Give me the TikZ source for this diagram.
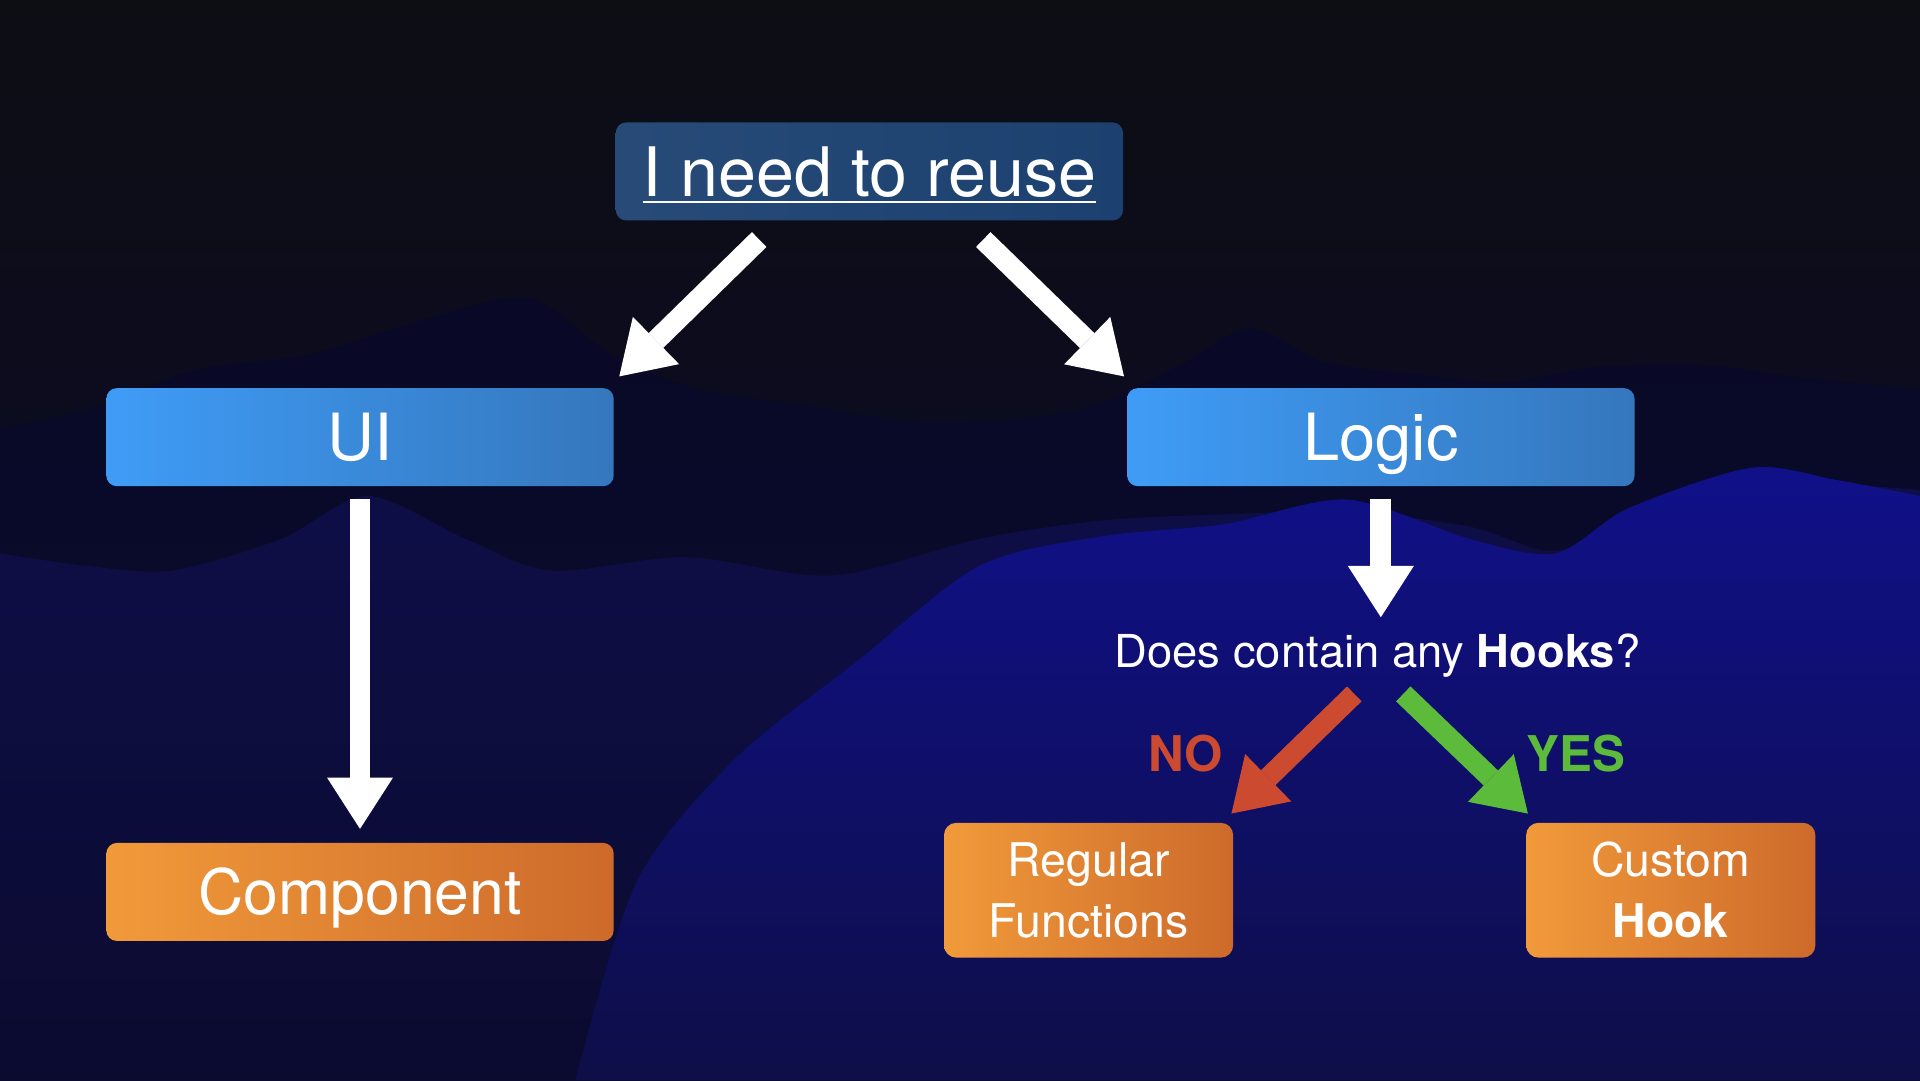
\documentclass[tikz,border=0pt]{standalone}
\usepackage{fontspec}
\setmainfont{TeX Gyre Heros}
\usetikzlibrary{arrows.meta,positioning,calc}

\definecolor{nightsky}{HTML}{0D0D14}
\definecolor{deepnavy}{HTML}{0B0B30}
\definecolor{midnavy}{HTML}{0E0E48}
\definecolor{brightnavy}{HTML}{10108A}
\definecolor{reuseblue}{HTML}{1C4170}
\definecolor{skyL}{HTML}{3F9CF6}
\definecolor{skyR}{HTML}{3577BD}
\definecolor{amberL}{HTML}{F19A3A}
\definecolor{amberR}{HTML}{CD6A2B}
\definecolor{noRed}{HTML}{CC4A30}
\definecolor{yesGreen}{HTML}{5DBB3B}

\begin{document}
\begin{tikzpicture}[x=0.012245cm,y=-0.012245cm,
    bigarrow/.style={-{Triangle[width=18.8pt,length=14.6pt,line width=0pt]},line width=5.9pt,white},
    darkbox/.style={rectangle,rounded corners=3pt,minimum width=5.07cm,minimum height=0.98cm,text height=14pt,text depth=0pt,
      left color=reuseblue!95!white,right color=reuseblue,text=white,font=\fontsize{19.4}{24}\selectfont},
    bluebox/.style={rectangle,rounded corners=3pt,minimum width=5.07cm,minimum height=0.98cm,text height=13.3pt,text depth=0pt,
      left color=skyL,right color=skyR,text=white,font=\fontsize{18.5}{22}\selectfont},
    orangebox/.style={bluebox,left color=amberL,right color=amberR,text height=12.8pt,font=\fontsize{17.8}{22}\selectfont},
    smallbox/.style={rectangle,rounded corners=3.5pt,minimum width=2.89cm,minimum height=1.347cm,
      align=center,left color=amberL,right color=amberR,text=white,font=\fontsize{13.2}{17.4}\selectfont},
    asktext/.style={inner sep=0pt,text=white,font=\fontsize{12.9}{16}\selectfont},
    answer/.style={inner sep=0pt,font=\fontsize{14}{16}\selectfont\bfseries}]

% background
\useasboundingbox (0,0) rectangle (1568,882);
\shade[top color=nightsky,bottom color=deepnavy] (0,0) rectangle (1568,882);
\shade[top color=deepnavy!80!black,bottom color=deepnavy] plot[smooth] coordinates {(0,350) (80,332) (160,302) (250,290) (330,266) (430,243)
  (500,290) (570,318) (650,330) (760,345) (880,335) (960,300) (1020,268) (1080,295) (1150,305)
  (1230,312) (1300,300) (1390,298) (1470,308) (1568,318)} -- (1568,882) -- (0,882) -- cycle;
\shade[top color=midnavy,bottom color=deepnavy] plot[smooth] coordinates {(0,452) (70,462) (140,466) (230,440) (300,405)
  (380,440) (450,466) (560,455) (680,470) (800,440) (900,425) (1000,420) (1100,418) (1200,430)
  (1270,450) (1340,420) (1440,395) (1568,400)} -- (1568,882) -- (0,882) -- cycle;
\shade[top color=brightnavy,bottom color=midnavy] plot[smooth] coordinates {(470,882) (520,720) (600,620) (700,540) (800,462)
  (900,438) (1000,428) (1100,408) (1200,440) (1270,452) (1330,415) (1430,382) (1500,392) (1568,405)}
  -- (1568,882) -- cycle;

% boxes
\node[darkbox] (reuse) at (710,140) {\underline{I need to reuse}};
\node[bluebox] (ui) at (294,357) {UI};
\node[bluebox] (logic) [right=5.118cm of ui] {Logic};
\node[orangebox] (component) [below=3.551cm of ui] {Component};
\node[asktext,anchor=base] (ask) at (1125,545) {Does contain any \textbf{Hooks}?};
\node[smallbox] (regular) at (889,727) {Regular\\Functions};
\node[smallbox] (custom) [right=2.914cm of regular] {Custom\\\textbf{Hook}};

\path[every edge/.style={draw,bigarrow}]
($(reuse.south)+(-90,15)$) edge ($(ui.north east)+(4,-9)$)
($(reuse.south)+(93,15)$) edge ($(logic.north west)+(-2,-9)$)
([yshift=-3.5pt]ui.south) edge ([yshift=3.8pt]component.north)
([yshift=-3.5pt]logic.south) edge ([yshift=4.5pt]logic.south |- ask.north)
($(ask.south)+(-19,13)$) edge[noRed] node[answer,left=17pt] {NO} ($(regular.north east)+(-2,-7)$)
($(ask.south)+(21,13)$) edge[yesGreen] node[answer,right=14.5pt] {YES} ($(custom.north west)+(2,-7)$)
;

\end{tikzpicture}
\end{document}
